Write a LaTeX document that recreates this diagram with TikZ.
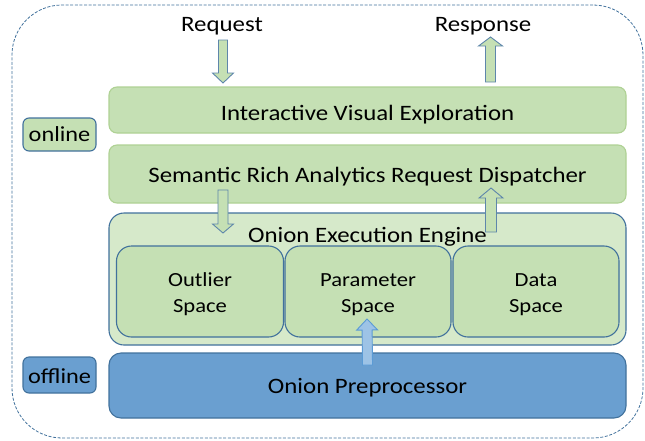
\documentclass[tikz,border=0pt]{standalone}
\usepackage{fontspec}
\setmainfont{Carlito}[FakeStretch=1.13]
\usetikzlibrary{calc}

\definecolor{lgreen}{HTML}{C5E0B4}
\definecolor{llgreen}{HTML}{D6E9CA}
\definecolor{gborder}{HTML}{AFD194}
\definecolor{bborder}{HTML}{41719C}
\definecolor{pblue}{HTML}{6A9FD0}
\definecolor{ablue}{HTML}{9DC3E6}
\definecolor{aborder}{HTML}{5B9BD5}

% block arrow from #2 (tail) to #3 (tip): #4 shaft half width, #5 head half width, #6 head length
\newcommand\blockarrow[6]{%
  \draw[#1] ($(#2)!#4!90:(#3)$)
    -- ($($(#3)!#6!(#2)$)!#4!-90:(#2)$)
    -- ($($(#3)!#6!(#2)$)!#5!-90:(#2)$)
    -- (#3)
    -- ($($(#3)!#6!(#2)$)!#5!90:(#2)$)
    -- ($($(#3)!#6!(#2)$)!#4!90:(#2)$)
    -- ($(#2)!#4!-90:(#3)$) -- cycle;}
% strut that lowers the first line of a two-line label
\newcommand\firstline{\rule{0pt}{19pt}}

\begin{document}
\begin{tikzpicture}[x=1pt,y=-1pt,
  box/.style={draw, line width=1.1pt, inner sep=0pt, outer sep=0pt, align=center},
  greenbar/.style={box, draw=gborder, fill=lgreen, rounded corners=8pt,
    minimum width=517pt, font=\fontsize{22}{26}\selectfont},
  space/.style={box, draw=bborder, fill=lgreen, rounded corners=15pt,
    minimum width=167pt, minimum height=91pt, font=\fontsize{20}{26}\selectfont},
  tag/.style={box, draw=bborder, rounded corners=6pt, minimum width=73pt,
    font=\fontsize{21.5}{26}\selectfont},
  plain/.style={inner sep=0pt, anchor=base, font=\fontsize{22}{26}\selectfont},
  garrow/.style={draw=bborder!85, fill=lgreen, line width=0.9pt, line join=miter},
  barrow/.style={draw=aborder, fill=ablue, line width=0.9pt, line join=miter}]

\useasboundingbox (0,0) rectangle (645,440);

% outer dashed frame
\node[draw=bborder, dash pattern=on 3pt off 1.6pt, line width=0.8pt,
  rounded corners=50pt, minimum width=631pt, minimum height=433pt,
  inner sep=0pt] (frame) at (327.5,221.5) {};

% online layers
\node[greenbar, minimum height=46pt, text height=24pt, text depth=4pt]
  (ive) at (367.5,110) {Interactive Visual Exploration};
\node[greenbar, minimum height=58pt, text height=20pt, text depth=4pt]
  (disp) at (367.5,174) {Semantic Rich Analytics Request Dispatcher};

% execution engine with its three spaces
\node[box, draw=bborder, fill=llgreen, rounded corners=15pt,
  minimum width=517pt, minimum height=132pt] (engine) at (367.5,279) {};
\node[plain] (englabel) at (367.5,242) {Onion Execution Engine};
\node[space] (outlier) at (200,291.5) {\firstline Outlier\\Space};
\node[space, minimum width=166pt] (param) at (368,291.5) {\firstline Parameter\\Space};
\node[space, minimum width=166pt] (data) at (536,291.5) {\firstline Data\\Space};

% offline layer
\node[box, draw=bborder, fill=pblue, rounded corners=12pt,
  minimum width=517pt, minimum height=65pt, font=\fontsize{22}{26}\selectfont,
  text height=20pt, text depth=4pt]
  (prep) at (367.5,385.5) {Onion Preprocessor};

% side tags
\node[tag, fill=lgreen, minimum height=33pt, text height=16pt, text depth=2pt]
  (online) at (59.5,134.5) {online};
\node[tag, fill=pblue, minimum height=36pt, text height=18pt, text depth=2pt]
  (offline) at (59.5,375) {offline};

% request / response
\node[plain] (request) at (222,31) {Request};
\node[plain] (response) at (483,31) {Response};

% arrow end points
\coordinate (rqT) at (223,40);
\coordinate (rqP) at ($(ive.north)+(-144.5,-4)$);
\coordinate (rsT) at ($(ive.north)+(123,-5)$);
\coordinate (rsP) at (490.5,37);
\coordinate (dnT) at ($(disp.south)+(-144.5,-13)$);
\coordinate (dnP) at ($(engine.north)+(-144.5,20)$);
\coordinate (upT) at ($(engine.north)+(123.5,19)$);
\coordinate (upP) at ($(disp.north)+(123.5,43)$);
\coordinate (ppT) at ($(prep.north)+(0,12)$);
\coordinate (ppP) at ($(param.south)+(-1,-18)$);

\blockarrow{garrow}{rqT}{rqP}{4.5pt}{10.5pt}{10pt}
\blockarrow{garrow}{rsT}{rsP}{5pt}{12pt}{9pt}
\blockarrow{garrow}{dnT}{dnP}{5pt}{10.5pt}{9pt}
\blockarrow{garrow}{upT}{upP}{5.5pt}{12pt}{10pt}
\blockarrow{barrow}{ppT}{ppP}{5pt}{10.5pt}{11pt}

\end{tikzpicture}
\end{document}
